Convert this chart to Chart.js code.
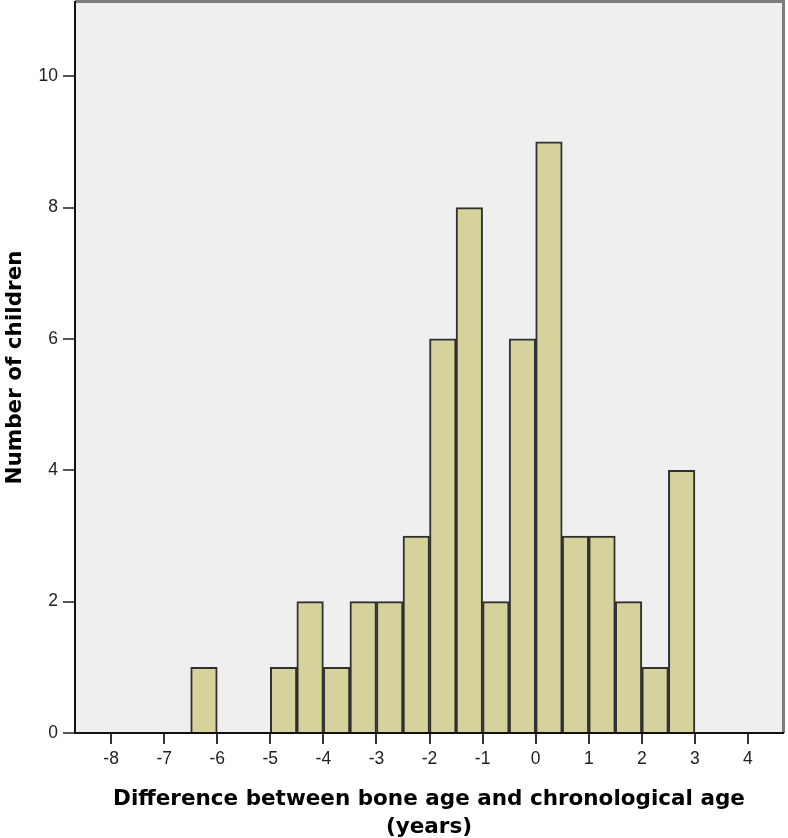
<!DOCTYPE html>
<html>
<head>
<meta charset="utf-8">
<script src="https://cdn.jsdelivr.net/npm/chart.js@4/dist/chart.umd.min.js"></script>
<style>
  html, body { margin: 0; padding: 0; background: #fff; }
  #wrap { width: 788px; height: 838px; }
</style>
</head>
<body>
<div id="wrap"><canvas id="histChart" width="788" height="838"></canvas></div>
<script>
// bin starts (years), bin width 0.5
const binStarts = [-6.5, -5, -4.5, -4, -3.5, -3, -2.5, -2, -1.5, -1, -0.5, 0, 0.5, 1, 1.5, 2, 2.5];
const counts    = [1, 1, 2, 1, 2, 2, 3, 6, 8, 2, 6, 9, 3, 3, 2, 1, 4];
const binWidth = 0.5;
const xTitle = ['Difference between bone age and chronological age', '(years)'];
const yTitle = 'Number of children';

// plot area background + frame (top/right)
const plotBg = {
  id: 'plotBg',
  beforeDraw(chart) {
    const { ctx, chartArea: a } = chart;
    ctx.save();
    ctx.fillStyle = '#efefef';
    ctx.fillRect(a.left, a.top, a.right - a.left, a.bottom - a.top);
    ctx.strokeStyle = '#7c7c7c';
    ctx.lineWidth = 3;
    ctx.beginPath();
    ctx.moveTo(a.left, a.top - 0.5);
    ctx.lineTo(a.right + 0.5, a.top - 0.5);
    ctx.lineTo(a.right + 0.5, a.bottom);
    ctx.stroke();
    ctx.restore();
  }
};

new Chart(document.getElementById('histChart'), {
  type: 'bar',
  data: {
    datasets: [{
      label: 'Children',
      data: binStarts.map((b, i) => ({ x: b + binWidth / 2, y: counts[i] })),
      backgroundColor: '#d6d29c',
      borderColor: '#303030',
      borderWidth: 2,
      barPercentage: 1,
      categoryPercentage: 1
    }]
  },
  options: {
    responsive: false,
    animation: false,
    layout: { padding: { top: 2, right: 5, left: 0, bottom: 0 } },
    plugins: { legend: { display: false }, tooltip: { enabled: false } },
    scales: {
      x: {
        type: 'linear',
        offset: false,
        min: -8.68,
        max: 4.66,
        grid: { offset: false, drawOnChartArea: false, drawTicks: true, tickLength: 11, color: '#333', lineWidth: 2 },
        border: { display: true, color: '#111', width: 2 },
        ticks: {
          stepSize: 1,
          includeBounds: false,
          padding: 5,
          color: '#222',
          font: { family: 'Liberation Sans', size: 17.5 },
          callback: v => v
        },
        title: {
          display: true,
          text: xTitle,
          color: '#000',
          font: { family: 'DejaVu Sans', size: 21.5, weight: 'bold', lineHeight: 1.3 },
          padding: { top: 12, bottom: -3 }
        },
        afterFit(scale) {
          scale.height = 105;
          scale.paddingLeft = 0;
          scale.paddingRight = 0;
        }
      },
      y: {
        min: 0,
        max: 11.13,
        grid: { drawOnChartArea: false, drawTicks: true, tickLength: 12, color: '#555', lineWidth: 2 },
        border: { display: true, color: '#111', width: 2 },
        ticks: {
          stepSize: 2,
          includeBounds: false,
          padding: 5,
          color: '#222',
          font: { family: 'Liberation Sans', size: 17.5 }
        },
        title: {
          display: true,
          text: yTitle,
          color: '#000',
          font: { family: 'DejaVu Sans', size: 21.5, weight: 'bold' },
          padding: { top: 3, bottom: 0 }
        },
        afterFit(scale) {
          scale.width = 75;
          scale.paddingTop = 0;
          scale.paddingBottom = 0;
        }
      }
    }
  },
  plugins: [plotBg]
});
</script>
</body>
</html>
